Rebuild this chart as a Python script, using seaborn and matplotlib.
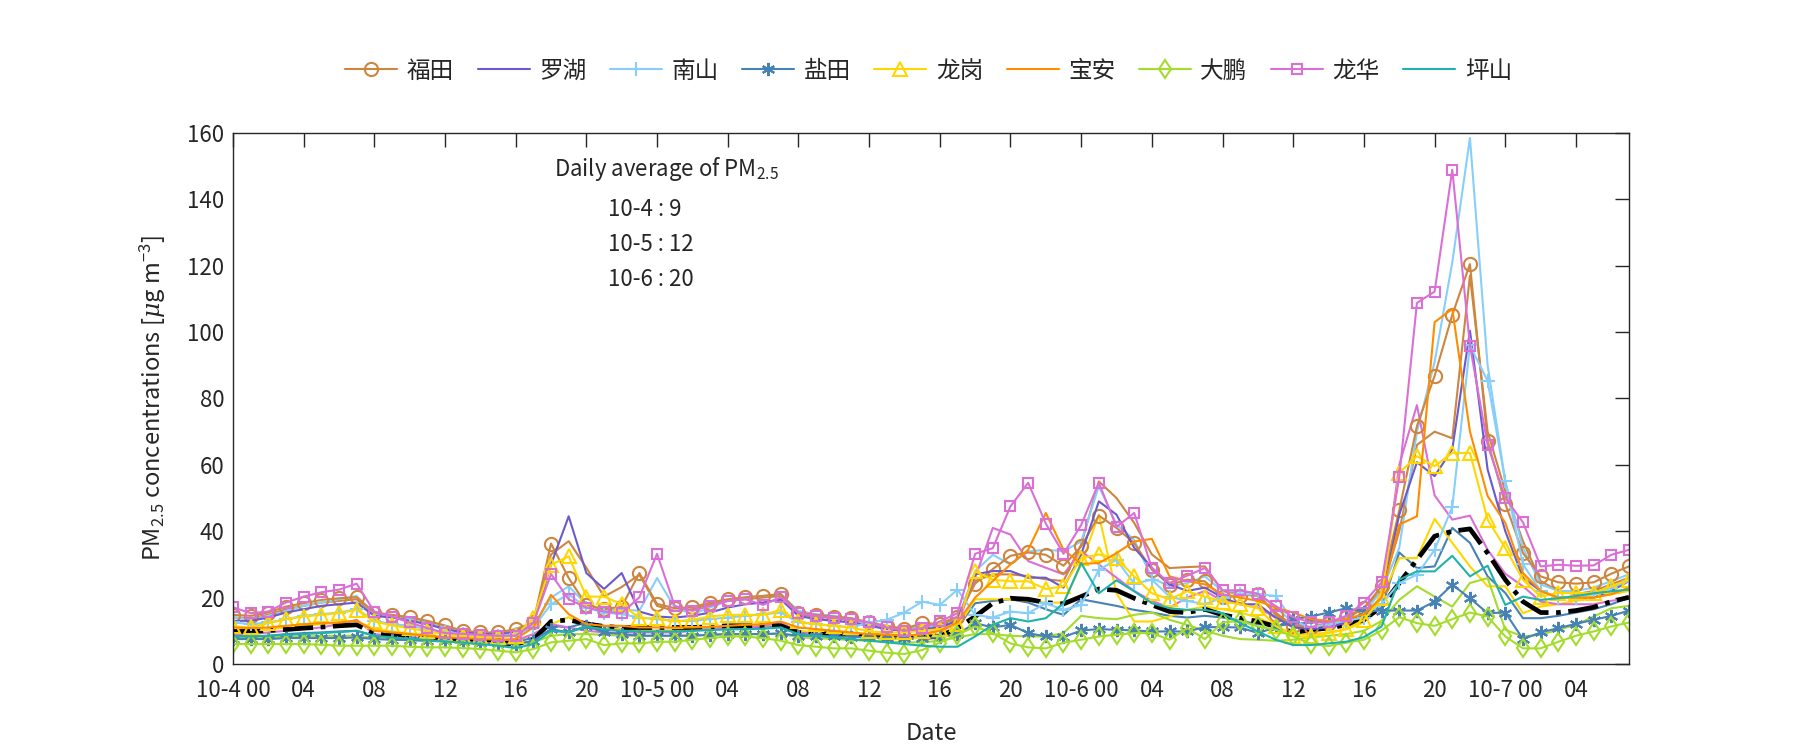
import matplotlib
matplotlib.use("Agg")
import matplotlib.pyplot as plt
import numpy as np
import seaborn as sns

sns.set_style("white")
plt.rcParams["font.family"] = ["Noto Sans CJK SC", "DejaVu Sans"]
plt.rcParams["mathtext.fontset"] = "custom"
plt.rcParams["mathtext.rm"] = "Noto Sans CJK SC"
plt.rcParams["mathtext.it"] = "DejaVu Serif:italic"

# ==============================
# Dados: PM2.5 horário, 10-4 00h até 10-7 07h
# ==============================

horas = np.arange(80)

futian = [14.8, 14.5, 15.5, 17.3, 18.3, 19.3, 19.8, 20.1, 15.5, 14.8, 14.1, 13.0, 11.6, 10.0, 9.5, 9.5, 10.5, 12.5, 36.3, 25.9,
          17.8, 16.5, 17.3, 27.4, 18.1, 16.8, 17.1, 18.5, 19.5, 20.1, 20.5, 21.1, 15.5, 14.8, 14.3, 13.8, 12.5, 11.5, 10.6, 12.3,
          12.1, 14.3, 24.2, 28.6, 32.6, 33.6, 32.9, 29.6, 35.4, 44.7, 41.0, 36.4, 28.4, 23.9, 25.4, 24.9, 20.1, 20.5, 21.1, 14.8,
          11.3, 11.1, 12.3, 14.3, 16.8, 23.4, 46.3, 71.7, 86.8, 105.2, 120.5, 67.2, 48.3, 33.4, 26.4, 24.6, 24.2, 24.6, 27.2, 29.4]
futian_b = [14.0, 13.8, 14.8, 16.5, 17.5, 18.5, 19.0, 19.5, 15.0, 14.2, 13.5, 12.5, 11.0, 9.8, 9.2, 9.0, 10.0, 12.0, 33.0, 37.0,
            29.0, 20.3, 23.2, 26.9, 17.5, 16.0, 16.5, 18.0, 19.0, 19.5, 20.0, 20.5, 15.0, 14.2, 13.8, 13.2, 12.0, 11.0, 10.2, 11.5,
            11.8, 13.5, 25.0, 27.0, 27.0, 26.5, 25.5, 25.0, 36.0, 55.0, 50.0, 42.5, 33.0, 28.9, 29.2, 29.4, 22.0, 21.0, 20.5, 15.5,
            11.5, 10.8, 11.5, 13.5, 17.0, 22.0, 40.0, 66.0, 70.0, 68.0, 117.0, 70.0, 52.0, 37.0, 25.0, 22.0, 21.0, 22.0, 24.0, 26.0]
luohu = [13.0, 13.0, 14.0, 15.5, 16.5, 17.5, 18.0, 18.5, 14.5, 14.0, 13.0, 12.0, 10.5, 9.5, 9.0, 9.0, 9.5, 12.0, 30.0, 44.5,
         27.4, 22.6, 27.4, 15.8, 14.3, 14.0, 14.5, 15.5, 17.0, 18.0, 18.5, 19.5, 14.5, 13.5, 13.0, 12.5, 11.5, 10.5, 10.0, 10.5,
         11.0, 13.0, 27.0, 28.0, 28.0, 26.0, 26.0, 23.0, 33.0, 49.0, 45.0, 35.0, 29.0, 24.0, 22.0, 23.0, 20.0, 18.0, 18.0, 14.0,
         11.0, 10.5, 11.0, 12.5, 15.0, 20.0, 45.0, 60.8, 56.6, 64.7, 100.4, 58.6, 40.0, 26.0, 22.0, 20.0, 20.0, 20.0, 22.0, 25.0]
nanshan = [12.5, 12.0, 12.5, 13.5, 14.5, 15.0, 15.5, 16.5, 13.0, 12.0, 11.5, 10.5, 9.5, 9.0, 8.5, 8.5, 9.0, 11.0, 18.0, 21.0,
           17.0, 15.5, 15.0, 14.0, 13.5, 13.0, 13.0, 13.5, 14.0, 14.5, 15.0, 15.5, 12.5, 12.0, 11.5, 11.0, 12.5, 13.3, 15.5, 18.8,
           17.8, 22.4, 14.8, 14.0, 15.8, 15.3, 18.3, 16.3, 17.8, 28.4, 31.4, 24.2, 25.4, 20.3, 19.0, 18.0, 20.0, 21.0, 21.0, 20.5,
           13.0, 11.0, 12.0, 13.0, 14.0, 18.0, 24.4, 26.9, 34.4, 47.3, 96.0, 85.3, 55.0, 30.0, 22.0, 20.0, 20.0, 21.0, 23.0, 25.0]
nanshan_b = [14.0, 13.5, 14.5, 16.0, 17.5, 18.5, 19.5, 20.5, 15.0, 14.0, 13.5, 12.5, 11.0, 10.0, 9.0, 9.0, 9.5, 11.5, 20.0, 23.4,
             18.0, 16.0, 16.5, 16.0, 25.9, 17.0, 15.0, 17.0, 19.0, 20.0, 20.5, 21.0, 16.0, 15.0, 14.5, 13.5, 12.0, 11.0, 10.5, 11.0,
             11.5, 13.0, 28.0, 32.9, 30.0, 33.9, 34.4, 34.0, 36.9, 53.6, 42.0, 37.4, 25.9, 23.4, 24.4, 26.4, 21.9, 21.9, 21.3, 17.0,
             12.5, 10.5, 11.5, 13.0, 15.5, 22.0, 35.0, 70.0, 91.0, 121.0, 158.5, 90.0, 55.0, 35.0, 24.0, 22.0, 22.0, 23.0, 25.0, 27.0]
yantian = [7.5, 7.5, 7.5, 7.8, 7.8, 7.8, 7.8, 8.0, 7.5, 7.3, 7.2, 7.0, 6.8, 6.6, 6.4, 6.2, 6.0, 7.0, 10.5, 9.5,
           11.5, 9.5, 9.0, 8.5, 8.5, 8.5, 8.5, 8.8, 9.0, 9.0, 9.0, 9.2, 8.5, 8.5, 8.3, 8.2, 8.0, 7.8, 7.8, 7.8,
           8.0, 9.0, 12.3, 11.0, 11.8, 9.3, 8.3, 8.1, 10.1, 10.5, 10.3, 10.1, 9.8, 9.8, 9.8, 11.1, 11.1, 11.0, 9.3, 11.0,
           13.5, 14.3, 15.5, 16.8, 15.8, 16.1, 16.1, 16.1, 18.8, 23.9, 19.8, 15.3, 15.5, 7.5, 9.5, 10.8, 12.1, 13.3, 14.5, 16.1]
yantian_b = [8.5, 8.3, 8.5, 9.0, 9.3, 9.5, 9.8, 10.0, 8.5, 8.2, 8.0, 7.8, 7.5, 7.2, 7.0, 6.8, 6.5, 8.0, 11.5, 11.0,
             12.5, 11.5, 10.5, 10.0, 10.0, 10.0, 10.2, 10.5, 10.8, 11.0, 11.2, 11.5, 9.5, 9.0, 8.8, 8.5, 8.3, 8.0, 8.0, 8.2,
             8.5, 11.0, 18.3, 19.0, 19.5, 18.5, 16.5, 14.8, 19.5, 18.5, 17.5, 16.3, 15.5, 14.5, 14.0, 14.5, 14.0, 13.0, 12.0, 11.5,
             12.0, 12.5, 13.0, 13.5, 14.0, 17.0, 33.6, 28.9, 29.4, 41.0, 36.5, 26.4, 21.4, 13.8, 13.8, 14.5, 15.5, 16.5, 18.0, 20.0]
longgang = [11.3, 11.0, 12.3, 13.5, 14.3, 14.8, 15.3, 16.3, 12.8, 11.6, 10.8, 9.8, 9.0, 8.5, 8.0, 8.0, 8.5, 13.8, 29.9, 32.4,
            20.3, 20.3, 18.0, 13.8, 13.8, 12.8, 13.3, 14.3, 14.8, 14.8, 14.8, 16.3, 12.8, 12.0, 11.5, 11.0, 9.8, 9.5, 9.5, 10.0,
            10.5, 12.0, 27.9, 25.4, 24.9, 24.9, 22.6, 23.4, 31.9, 33.0, 31.9, 26.4, 21.3, 19.5, 21.9, 20.3, 18.8, 18.0, 16.8, 11.5,
            8.3, 8.3, 9.3, 10.5, 13.3, 20.0, 57.6, 62.6, 59.6, 63.6, 63.6, 43.5, 34.9, 25.4, 20.3, 21.4, 21.4, 21.4, 23.4, 25.4]
longgang_b = [10.0, 10.0, 10.5, 11.0, 11.5, 12.0, 12.5, 13.0, 10.5, 9.8, 9.2, 8.8, 8.2, 7.8, 7.5, 7.2, 7.0, 9.0, 12.0, 14.1,
              11.0, 10.5, 10.5, 10.0, 10.0, 10.0, 10.2, 10.5, 11.0, 11.2, 11.5, 12.0, 10.0, 9.5, 9.2, 9.0, 8.5, 8.2, 8.0, 8.5,
              9.0, 11.0, 19.5, 19.5, 19.5, 19.0, 18.5, 18.5, 30.0, 45.0, 21.3, 12.8, 12.8, 14.3, 16.3, 17.3, 16.5, 15.5, 14.0, 11.5,
              9.0, 9.0, 9.5, 10.5, 12.5, 20.0, 31.9, 31.9, 43.7, 36.5, 29.4, 23.4, 23.4, 15.3, 17.3, 18.0, 19.0, 20.0, 21.0, 22.0]
baoan = [11.0, 10.8, 11.0, 11.5, 12.0, 12.3, 12.5, 13.0, 10.0, 9.5, 9.0, 8.5, 8.0, 7.8, 7.5, 7.3, 7.5, 11.0, 20.8, 15.0,
         12.0, 11.5, 11.5, 11.0, 11.0, 11.0, 11.0, 11.2, 11.5, 11.8, 12.0, 12.8, 11.0, 10.5, 10.0, 9.5, 9.0, 8.8, 8.5, 9.0,
         10.0, 12.5, 20.0, 25.0, 30.0, 34.4, 45.5, 34.4, 30.2, 30.4, 33.4, 36.9, 37.7, 26.4, 25.0, 24.0, 21.0, 20.0, 19.0, 17.0,
         15.5, 13.5, 13.0, 13.5, 15.0, 20.0, 42.0, 44.5, 103.0, 107.0, 70.0, 50.6, 42.5, 27.4, 22.0, 20.0, 20.0, 20.0, 21.0, 23.0]
dapeng = [6.0, 6.0, 6.0, 6.0, 6.0, 5.8, 5.5, 5.5, 5.5, 5.5, 5.2, 5.0, 5.0, 4.8, 4.5, 4.0, 3.5, 4.5, 6.5, 7.0,
          7.5, 5.7, 6.2, 6.2, 6.7, 6.7, 7.3, 7.8, 8.3, 8.3, 7.8, 7.0, 5.7, 5.2, 4.7, 4.7, 4.0, 3.4, 3.0, 4.2,
          6.4, 8.8, 11.3, 9.3, 6.2, 5.0, 4.7, 6.4, 7.3, 8.3, 8.8, 9.3, 9.3, 7.3, 10.8, 7.5, 12.5, 13.0, 11.3, 10.3,
          8.3, 6.0, 5.4, 6.4, 7.3, 10.1, 14.1, 12.3, 11.5, 13.5, 15.5, 14.3, 8.3, 4.7, 4.7, 6.7, 8.5, 9.8, 11.3, 12.5]
dapeng_b = [8.0, 8.0, 8.0, 8.2, 8.3, 8.4, 8.5, 8.5, 7.8, 7.5, 7.2, 7.0, 6.8, 6.5, 6.2, 6.0, 5.8, 6.5, 8.5, 9.0,
            9.0, 8.8, 8.5, 8.5, 8.5, 8.5, 8.6, 8.8, 9.0, 9.0, 9.0, 9.2, 8.0, 7.8, 7.5, 7.2, 7.0, 6.8, 6.5, 6.5,
            7.0, 8.0, 9.0, 9.0, 8.5, 8.3, 8.3, 9.3, 14.5, 13.8, 13.5, 14.8, 15.5, 13.3, 11.8, 10.0, 8.5, 7.5, 7.3, 7.0,
            7.3, 8.0, 8.5, 9.0, 10.0, 13.0, 19.3, 23.4, 20.3, 17.3, 24.4, 25.9, 10.3, 8.3, 8.8, 10.3, 11.8, 14.3, 16.8, 17.5]
longhua = [17.1, 15.3, 15.8, 18.5, 20.3, 21.6, 22.4, 24.2, 15.8, 14.3, 12.5, 10.8, 9.3, 9.1, 8.8, 8.5, 8.5, 12.3, 27.1, 19.5,
           17.0, 15.8, 15.3, 20.1, 33.2, 17.5, 16.0, 17.5, 19.0, 19.5, 17.8, 20.1, 15.3, 14.5, 14.0, 13.5, 12.5, 11.0, 10.0, 10.8,
           12.8, 15.3, 33.2, 34.9, 47.5, 54.6, 42.3, 33.2, 41.9, 54.6, 41.3, 45.5, 28.9, 24.4, 26.6, 28.9, 22.2, 22.2, 21.1, 17.5,
           14.1, 12.5, 12.5, 14.5, 18.5, 24.6, 56.4, 108.8, 112.2, 148.9, 95.9, 66.0, 50.0, 42.7, 29.4, 29.9, 29.6, 29.7, 32.9, 34.4]
longhua_b = [9.0, 9.0, 9.5, 10.0, 10.5, 11.0, 12.0, 13.3, 9.0, 8.5, 8.0, 7.5, 7.0, 7.0, 7.0, 7.0, 7.0, 9.0, 12.0, 11.0,
             10.0, 9.5, 9.5, 9.5, 9.5, 9.5, 10.0, 10.5, 11.0, 11.0, 11.5, 12.5, 9.5, 9.0, 8.8, 8.5, 8.2, 8.0, 8.0, 9.0,
             10.0, 12.0, 26.0, 41.0, 39.0, 31.0, 29.0, 27.0, 34.0, 30.0, 26.0, 22.0, 19.0, 17.0, 20.0, 22.0, 19.0, 18.0, 17.0, 14.0,
             12.0, 11.0, 11.0, 12.0, 14.0, 20.0, 60.0, 78.0, 50.8, 43.5, 44.7, 34.4, 27.2, 23.4, 18.8, 18.0, 18.0, 18.0, 19.0, 20.0]
pingshan = [8.3, 8.3, 8.5, 8.8, 9.0, 9.3, 9.6, 10.0, 8.5, 8.0, 7.6, 7.2, 6.8, 6.4, 6.0, 5.5, 4.8, 6.0, 10.0, 9.5,
            11.3, 10.5, 10.0, 9.8, 9.8, 9.8, 10.0, 10.2, 10.4, 10.5, 10.6, 11.0, 9.0, 8.5, 8.0, 7.5, 7.0, 6.5, 6.0, 5.5,
            5.2, 5.2, 8.3, 11.8, 13.8, 12.8, 13.8, 18.3, 30.4, 21.3, 25.2, 21.9, 18.3, 16.8, 16.3, 16.3, 15.3, 12.3, 9.8, 7.3,
            5.7, 5.7, 6.2, 6.7, 8.1, 11.3, 25.4, 27.9, 27.9, 32.6, 26.4, 29.6, 17.8, 20.3, 19.3, 19.8, 20.5, 21.3, 21.9, 22.4]
media = [9.8, 9.8, 10.1, 10.4, 10.8, 11.1, 11.5, 11.8, 9.3, 8.9, 8.5, 8.0, 7.5, 7.1, 6.7, 6.4, 6.0, 7.3, 12.8, 13.3,
         12.1, 11.3, 11.0, 11.0, 11.0, 11.0, 11.0, 11.2, 11.5, 11.5, 11.5, 11.5, 9.5, 9.2, 9.0, 8.8, 8.5, 8.3, 8.0, 8.0,
         8.3, 10.8, 14.3, 18.3, 19.8, 19.5, 18.5, 18.1, 20.3, 22.6, 22.2, 19.8, 17.8, 15.8, 15.5, 16.5, 14.8, 13.8, 12.8, 11.3,
         9.5, 10.3, 10.8, 11.8, 13.3, 17.3, 24.4, 31.4, 38.5, 40.0, 40.7, 33.4, 25.4, 18.8, 15.5, 15.5, 16.1, 17.1, 18.8, 20.1]

# asterisco fino de 6 pontas (igual ao '*' do MATLAB)
asterisco = (6, 2, 0)

# (nome, serie, cor, marcador)
principais = [
    ("福田", futian, "#CD853F", "o"),
    ("罗湖", luohu, "#6A5ACD", None),
    ("南山", nanshan, "#87CEFA", "+"),
    ("盐田", yantian, "#4682B4", asterisco),
    ("龙岗", longgang, "#FFD700", "^"),
    ("宝安", baoan, "#FF8C00", None),
    ("大鹏", dapeng, "#A4DC2C", "d"),
    ("龙华", longhua, "#DA70D6", "s"),
    ("坪山", pingshan, "#20B2AA", None),
]
extras = [
    (futian_b, "#CD853F"),
    (nanshan_b, "#87CEFA"),
    (yantian_b, "#4682B4"),
    (longgang_b, "#FFD700"),
    (dapeng_b, "#A4DC2C"),
    (longhua_b, "#DA70D6"),
]

# ==============================
# Gráfico
# ==============================

fig, ax = plt.subplots(figsize=(18, 7.5), dpi=100)
fig.subplots_adjust(left=0.1294, right=0.905, bottom=0.1147, top=0.8227)

for serie, cor in extras:
    sns.lineplot(x=horas, y=serie, ax=ax, color=cor, linewidth=1.5)

sns.lineplot(x=horas, y=media, ax=ax, color="black", linewidth=3.4, linestyle="-.")

handles = []
for nome, serie, cor, marc in principais:
    tamanho = {"s": 7, "+": 10, asterisco: 9.5, "d": 9.5}.get(marc, 9.5)
    sns.lineplot(x=horas, y=serie, ax=ax, color=cor, linewidth=1.5,
                 marker=marc, markersize=tamanho,
                 markerfacecolor="none", markeredgecolor=cor, markeredgewidth=1.5)
    linha = ax.lines[-1]
    linha.set_label(nome)
    handles.append(linha)

# o seaborn cria legenda dentro do eixo; a legenda fica fora, em cima
if ax.get_legend() is not None:
    ax.get_legend().remove()

# rótulos do eixo x: a cada 4 horas
ticks_x = np.arange(0, 80, 4)
rotulos_x = [f"10-{4 + h // 24} 00" if h % 24 == 0 else f"{h % 24:02d}" for h in ticks_x]
ax.set_xticks(ticks_x)
ax.set_xticklabels(rotulos_x)
ax.set_xlim(0, 79)
ax.set_ylim(0, 160)
ax.set_yticks(np.arange(0, 161, 20))

ax.tick_params(axis="both", direction="in", length=10, width=1, labelsize=16,
               top=True, right=True, colors="#262626")
ax.tick_params(axis="x", pad=11)
ax.tick_params(axis="y", pad=6)
for sp in ax.spines.values():
    sp.set_color("#262626")
    sp.set_linewidth(1)

ax.set_xlabel("Date", fontsize=17, color="#262626", labelpad=14)
ax.set_ylabel(r"PM$_{2.5}$ concentrations [$\mu$g m$^{-3}$]", fontsize=17, color="#262626", labelpad=14)

ax.text(0.230, 0.933, r"Daily average of PM$_{2.5}$", transform=ax.transAxes, fontsize=16, va="center")
for i, txt in enumerate(["10-4 : 9", "10-5 : 12", "10-6 : 20"]):
    ax.text(0.269, 0.855 - i * 0.065, txt, transform=ax.transAxes, fontsize=16, va="center")

fig.legend(handles=handles, loc="center", bbox_to_anchor=(0.516, 0.905), ncol=9,
           frameon=False, fontsize=17, handlelength=2.2, columnspacing=1.0, handletextpad=0.4)

plt.savefig("out.png")
